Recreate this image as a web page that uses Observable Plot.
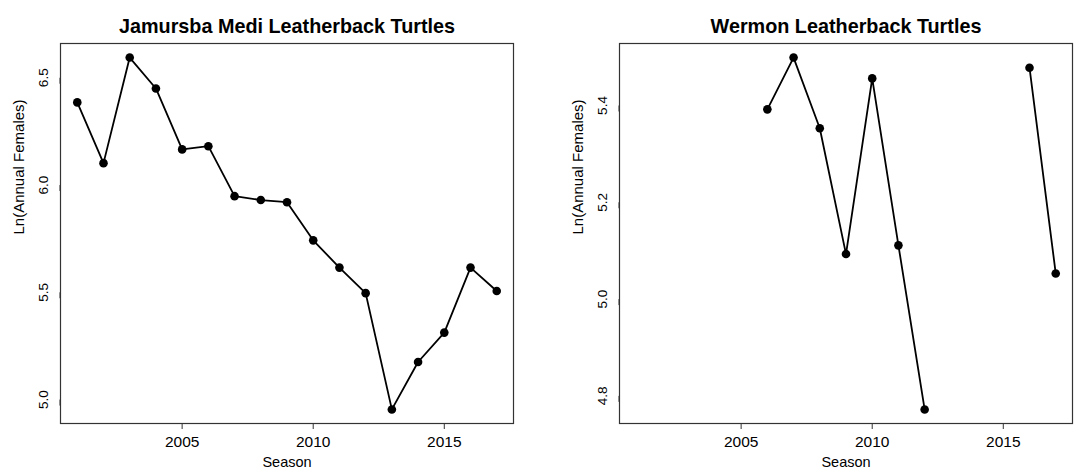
<!DOCTYPE html>
<html>
<head>
<meta charset="utf-8">
<script src="https://cdn.jsdelivr.net/npm/d3@7"></script>
<script src="https://cdn.jsdelivr.net/npm/@observablehq/plot@0.6"></script>
<style>
  html, body { margin: 0; padding: 0; background: #fff; }
  #wrap { display: flex; width: 1081px; height: 474px; }
  svg { display: block; }
</style>
</head>
<body>
<div id="wrap"></div>
<script>
const seasons = [2001, 2002, 2003, 2004, 2005, 2006, 2007, 2008, 2009, 2010, 2011, 2012, 2013, 2014, 2015, 2016, 2017];
const jamursba = [6.385, 6.102, 6.594, 6.450, 6.166, 6.181, 5.948, 5.930, 5.920, 5.742, 5.615, 5.496, 4.954, 5.175, 5.312, 5.615, 5.506];
const wermon = [null, null, null, null, null, 5.392, 5.499, 5.353, 5.093, 5.456, 5.111, 4.772, null, null, null, 5.478, 5.053];
const titles = ["Jamursba Medi Leatherback Turtles", "Wermon Leatherback Turtles"];
const xLabel = "Season";
const yLabel = "Ln(Annual Females)";
const xTicks = [2005, 2010, 2015];
const yTicksLeft = [5.0, 5.5, 6.0, 6.5];
const yTicksRight = [4.8, 5.0, 5.2, 5.4];

function pad(ext) {
  const d = (ext[1] - ext[0]) * 0.04;
  return [ext[0] - d, ext[1] + d];
}

const font = "'Liberation Sans', Arial, sans-serif";

function panel(values, title, yTicks, width, marginLeft, marginRight) {
  const data = seasons.map((s, i) => ({season: s, value: values[i]}));
  const valid = data.filter(d => d.value != null);
  return Plot.plot({
    width, height: 474,
    marginTop: 43, marginBottom: 51, marginLeft, marginRight,
    style: {fontFamily: font, fontSize: "14px", background: "#fff", color: "#000", overflow: "visible"},
    x: {domain: pad(d3.extent(seasons)), label: null},
    y: {domain: pad(d3.extent(valid, d => d.value)), label: null},
    marks: [
      Plot.frame({stroke: "#333", strokeWidth: 1.2}),
      Plot.axisX({ticks: xTicks, tickFormat: "d", tickSize: 6, tickPadding: 6, fontSize: 15.5, stroke: "#333"}),
      Plot.axisY({ticks: yTicks, tickFormat: ".1f", tickSize: 6, tickPadding: 7, rotate: -90, textAnchor: "middle", lineAnchor: "bottom", fontSize: 13.5, stroke: "#333"}),
      Plot.line(data, {x: "season", y: "value", stroke: "#000", strokeWidth: 1.8}),
      Plot.dot(valid, {x: "season", y: "value", r: 4.3, fill: "#000", stroke: "none"}),
      Plot.text([title], {frameAnchor: "top", dy: -25, text: d => d, fontSize: 19.8, fontWeight: "bold", fill: "#000"}),
      Plot.text([xLabel], {frameAnchor: "bottom", dy: 43, text: d => d, fontSize: 14.5, fill: "#000"}),
      Plot.text([yLabel], {frameAnchor: "left", dx: -41, dy: 1, rotate: -90, text: d => d, fontSize: 15, fill: "#000"})
    ]
  });
}

const wrap = document.getElementById("wrap");
wrap.appendChild(panel(jamursba, titles[0], yTicksLeft, 540, 60, 27));
wrap.appendChild(panel(wermon, titles[1], yTicksRight, 541, 79, 9));
</script>
</body>
</html>
